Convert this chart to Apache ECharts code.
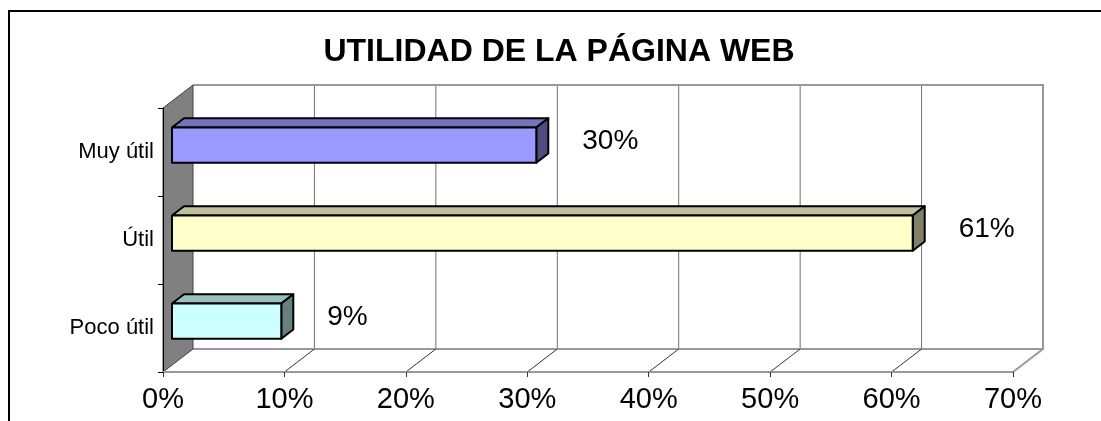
<!DOCTYPE html>
<html>
<head>
<meta charset="utf-8">
<script src="https://cdn.jsdelivr.net/npm/echarts@6/dist/echarts.min.js"></script>
<style>
  html, body { margin: 0; padding: 0; background: #fff; }
  #main { width: 1101px; height: 421px; }
</style>
</head>
<body>
<div id="main"></div>
<script>
// datos del grafico
const titleText = 'UTILIDAD DE LA PÁGINA WEB';
const categories = ['Poco útil', 'Útil', 'Muy útil'];
const values = [9, 61, 30];
const xMin = 0, xMax = 70, xStep = 10;

// colores de cada barra (frente, arriba, lado)
const frontColors = ['#CCFFFF', '#FFFFCC', '#9999FF'];
const topColors = ['#99BFBF', '#BFBF99', '#7373BF'];
const sideColors = ['#668080', '#808066', '#4D4D80'];

const FONT = '"Liberation Sans", Arial, sans-serif';
const DX = 30, DY = -23;      // profundidad de las paredes
const BAR_Z0 = 0.3, BAR_DZ = 0.4;

const myChart = echarts.init(document.getElementById('main'));

function renderFrame(params, api) {
    const cs = params.coordSys;
    const x0 = cs.x, y0 = cs.y, x1 = cs.x + cs.width, y1 = cs.y + cs.height;
    const children = [];
    // pared del fondo
    children.push({type: 'rect', shape: {x: x0 + DX, y: y0 + DY, width: x1 - x0, height: y1 - y0},
        style: {fill: '#fff'}});
    for (let t = xMin + xStep; t < xMax; t += xStep) {
        const xt = api.coord([t, 0])[0];
        children.push({type: 'line', shape: {x1: xt + DX, y1: y0 + DY, x2: xt + DX, y2: y1 + DY},
            style: {stroke: '#707070', lineWidth: 1}});
    }
    children.push({type: 'polyline', shape: {points: [[x0 + DX, y0 + DY], [x1 + DX, y0 + DY], [x1 + DX, y1 + DY], [x0 + DX, y1 + DY]]},
        style: {stroke: '#999', lineWidth: 2, fill: null}});
    // piso
    for (let t = xMin + xStep; t <= xMax; t += xStep) {
        const xt = api.coord([t, 0])[0];
        const last = t >= xMax;
        children.push({type: 'line', shape: {x1: xt, y1: y1, x2: xt + DX, y2: y1 + DY},
            style: {stroke: last ? '#999' : '#333', lineWidth: last ? 2 : 1}});
    }
    // pared izquierda
    children.push({type: 'polygon', shape: {points: [[x0, y0], [x0 + DX, y0 + DY], [x0 + DX, y1 + DY], [x0, y1]]},
        style: {fill: '#808080', stroke: '#404040', lineWidth: 1}});
    return {type: 'group', children: children};
}

function renderBar(params, api) {
    const v = api.value(0), i = api.value(1);
    const p0 = api.coord([0, i]);
    const p1 = api.coord([v, i]);
    const bh = api.size([0, 1])[1] * 0.4;
    const fx0 = p0[0] + DX * BAR_Z0, fx1 = p1[0] + DX * BAR_Z0;
    const cy = p0[1] + DY * BAR_Z0;
    const fy0 = cy - bh / 2, fy1 = cy + bh / 2;
    const ddx = DX * BAR_DZ, ddy = DY * BAR_DZ;
    const line = {stroke: '#000', lineWidth: 2, lineJoin: 'round'};
    return {
        type: 'group',
        children: [
            {type: 'polygon', shape: {points: [[fx0, fy0], [fx0 + ddx, fy0 + ddy], [fx1 + ddx, fy0 + ddy], [fx1, fy0]]},
                style: Object.assign({fill: topColors[i]}, line)},
            {type: 'polygon', shape: {points: [[fx1, fy0], [fx1 + ddx, fy0 + ddy], [fx1 + ddx, fy1 + ddy], [fx1, fy1]]},
                style: Object.assign({fill: sideColors[i]}, line)},
            {type: 'rect', shape: {x: fx0, y: fy0, width: fx1 - fx0, height: bh},
                style: Object.assign({fill: frontColors[i]}, line)},
            {type: 'text', x: fx1 + 46, y: cy - 4,
                style: {text: v + '%', fontSize: 28, fontFamily: FONT, fill: '#000',
                    textAlign: 'left', textVerticalAlign: 'middle'}}
        ]
    };
}

const option = {
    animation: false,
    backgroundColor: '#fff',
    graphic: [
        {type: 'rect', shape: {x: 9, y: 11, width: 1200, height: 600},
            style: {fill: null, stroke: '#000', lineWidth: 2}, z: 0},
        {type: 'text', x: 559, y: 52,
            style: {text: titleText, fontSize: 32, fontWeight: 'bold', fontFamily: FONT, fill: '#000',
                textAlign: 'center', textVerticalAlign: 'middle'}, z: 10}
    ],
    grid: {left: 163, right: 88, top: 108, bottom: 49, outerBoundsMode: 'none', containLabel: false},
    xAxis: {
        type: 'value', min: xMin, max: xMax, interval: xStep, z: 5,
        axisLine: {show: true, lineStyle: {color: '#999', width: 2}},
        axisTick: {show: true, length: 5, lineStyle: {color: '#333'}},
        splitLine: {show: false},
        axisLabel: {formatter: '{value}%', fontSize: 29, fontFamily: FONT, color: '#000', margin: 13}
    },
    yAxis: {
        type: 'category', data: categories, z: 5,
        axisLine: {show: true, lineStyle: {color: '#000', width: 1}},
        axisTick: {show: true, length: 5, lineStyle: {color: '#000'}},
        splitLine: {show: false},
        axisLabel: {fontSize: 22, fontFamily: FONT, color: '#000', margin: 9}
    },
    series: [
        {type: 'custom', renderItem: renderFrame, data: [[0, 0]], z: 1, silent: true},
        {type: 'custom', renderItem: renderBar, encode: {x: 0, y: 1},
            data: values.map((v, i) => [v, i]), z: 3}
    ]
};
myChart.setOption(option);
</script>
</body>
</html>
